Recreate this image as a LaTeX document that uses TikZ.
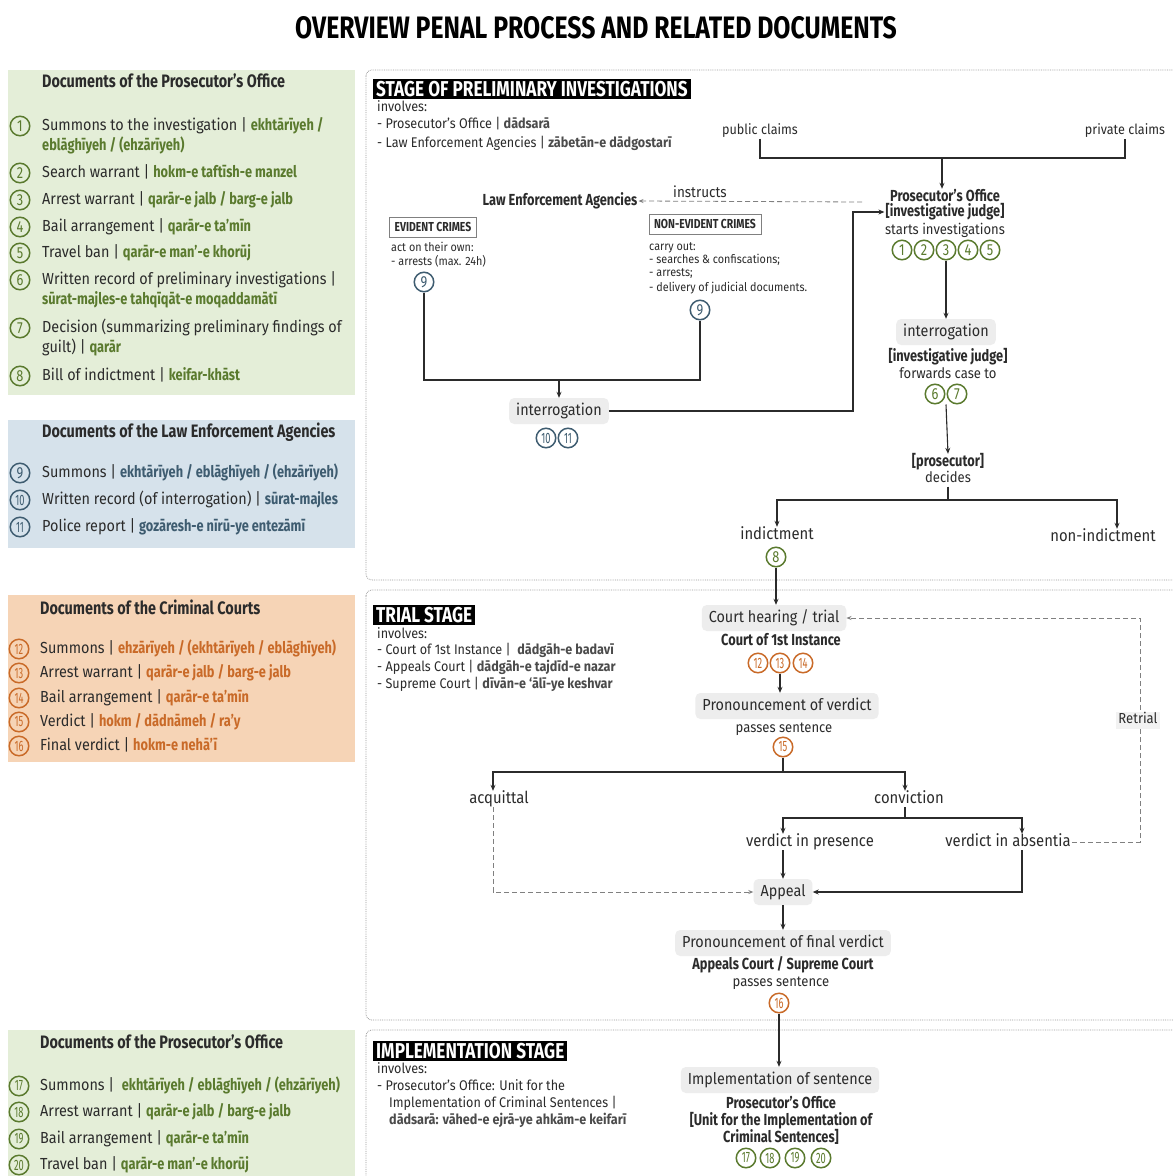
\documentclass[tikz,border=0pt]{standalone}
\usepackage{fontspec}
\setmainfont[FakeStretch=0.9]{Fira Sans}
\newfontfamily\cf[FakeStretch=0.8]{Fira Sans}
\newfontfamily\cnf[FakeStretch=0.62]{Fira Sans}
\usetikzlibrary{arrows.meta,calc}
\definecolor{tgreen}{HTML}{5A7A2E}
\definecolor{tblue}{HTML}{3E5C70}
\definecolor{torange}{HTML}{C96A28}
\definecolor{pgreen}{HTML}{E4EED8}
\definecolor{pblue}{HTML}{D6E2EB}
\definecolor{porange}{HTML}{F6D4B6}
\definecolor{gboxc}{HTML}{EDEDED}
\definecolor{ink}{HTML}{2B2B2B}
\newcommand\termG[1]{{\cf\bfseries\color{tgreen}#1}}
\newcommand\termB[1]{{\cf\bfseries\color{tblue}#1}}
\newcommand\termO[1]{{\cf\bfseries\color{torange}#1}}
\newcommand\termK[1]{{\bfseries\color{ink!85}#1}}
\tikzset{
  cn/.style={circle,draw,line width=1.5pt,minimum size=19.5pt,inner sep=0pt,font=\cf\fontsize{16}{16}\selectfont},
  tw/.style={font=\cnf\fontsize{15}{15}\selectfont},
  cg/.style={cn,draw=tgreen,text=tgreen},
  cb/.style={cn,draw=tblue,text=tblue},
  co/.style={cn,draw=torange,text=torange},
  leg/.style={anchor=west,inner sep=0pt,text=ink,text height=12pt,text depth=4pt,font=\fontsize{16}{18}\selectfont},
  legh/.style={anchor=west,inner sep=0pt,text=ink,font=\cf\bfseries\fontsize{18}{20}\selectfont},
  txt/.style={inner sep=1pt,text=ink,text height=10pt,text depth=3pt,font=\fontsize{14}{16}\selectfont},
  txtm/.style={inner sep=1pt,text=ink,text height=11pt,text depth=3pt,font=\fontsize{16.5}{18}\selectfont},
  txts/.style={inner sep=1pt,text=ink,text height=10pt,text depth=3pt,font=\fontsize{14.5}{16}\selectfont},
  small/.style={anchor=west,inner sep=0pt,text=ink,text height=9pt,text depth=3pt,font=\fontsize{12}{14}\selectfont},
  inv/.style={anchor=west,inner sep=0pt,text=ink,text height=10pt,text depth=3pt,font=\fontsize{14}{16}\selectfont},
  bld/.style={inner sep=1pt,text=ink,text height=11pt,text depth=3pt,font=\cf\bfseries\fontsize{16}{18}\selectfont},
  gb/.style={fill=gboxc,rounded corners=5pt,inner xsep=7pt,inner ysep=6pt,text=ink,text height=11pt,text depth=3pt,font=\fontsize{16}{18}\selectfont},
  stagelbl/.style={anchor=north west,fill=black,text=white,inner xsep=3pt,inner ysep=2pt,text height=15pt,text depth=1pt,font=\cf\bfseries\fontsize{21.5}{22}\selectfont},
  crimebox/.style={draw=gray,line width=0.8pt,inner sep=5pt,text=ink,text height=9pt,text depth=1pt,font=\cf\bfseries\fontsize{13}{14}\selectfont},
  frame/.style={draw=gray!80,line width=0.8pt,densely dotted,rounded corners=6pt},
  conn/.style={draw=ink,line width=1.1pt},
  arr/.style={conn,-{Stealth[length=6pt,width=5pt]}},
  dsh/.style={draw=gray,line width=0.8pt,dash pattern=on 5pt off 3pt},
  darr/.style={dsh,-{Stealth[length=5pt,width=4pt]}}
}
\begin{document}
\begin{tikzpicture}[x=1pt,y=-1pt]
\path[use as bounding box] (0,0) rectangle (1173,1176);
\clip (0,0) rectangle (1173,1176);
\fill[white] (0,0) rectangle (1173,1176);

% title
\node[text=black,font=\cf\bfseries\fontsize{31}{31}\selectfont] (title) at (596,28) {OVERVIEW PENAL PROCESS AND RELATED DOCUMENTS};

% ---------- legend panels ----------
\fill[pgreen] (8,70) rectangle (355,395);
\fill[pblue] (8,420) rectangle (355,548);
\fill[porange] (8,595) rectangle (355,762);
\fill[pgreen] (8,1030) rectangle (355,1190);

\node[legh] (hG1) at (42,81) {Documents of the Prosecutor’s Office};
\node[cg] (l1) at (20,126) {1};
\node[leg] (t1) at (42,126) {Summons to the investigation | \termG{ekhtārīyeh /}};
\node[leg] (t1b) at (42,146) {\termG{eblāghīyeh / (ehzārīyeh)}};
\node[cg] (l2) at (20,173) {2};
\node[leg] (t2) at (42,173) {Search warrant | \termG{hokm-e taftīsh-e manzel}};
\node[cg] (l3) at (20,200) {3};
\node[leg] (t3) at (42,200) {Arrest warrant | \termG{qarār-e jalb / barg-e jalb}};
\node[cg] (l4) at (20,227) {4};
\node[leg] (t4) at (42,227) {Bail arrangement | \termG{qarār-e ta’mīn}};
\node[cg] (l5) at (20,253) {5};
\node[leg] (t5) at (42,253) {Travel ban | \termG{qarār-e man’-e khorūj}};
\node[cg] (l6) at (20,280) {6};
\node[leg] (t6) at (42,280) {Written record of preliminary investigations |};
\node[leg] (t6b) at (42,300) {\termG{sūrat-majles-e tahqīqāt-e moqaddamātī}};
\node[cg] (l7) at (20,328) {7};
\node[leg] (t7) at (42,328) {Decision (summarizing preliminary findings of};
\node[leg] (t7b) at (42,348) {guilt) | \termG{qarār}};
\node[cg] (l8) at (20,376) {8};
\node[leg] (t8) at (42,376) {Bill of indictment | \termG{keifar-khāst}};

\node[legh] (hB) at (42,432) {Documents of the Law Enforcement Agencies};
\node[cb] (l9) at (20,473) {9};
\node[leg] (t9) at (42,473) {Summons | \termB{ekhtārīyeh / eblāghīyeh / (ehzārīyeh)}};
\node[cb,tw] (l10) at (20,500) {10};
\node[leg] (t10) at (42,500) {Written record (of interrogation) | \termB{sūrat-majles}};
\node[cb,tw] (l11) at (20,527) {11};
\node[leg] (t11) at (42,527) {Police report | \termB{gozāresh-e nīrū-ye entezāmī}};

\node[legh] (hO) at (40,607) {Documents of the Criminal Courts};
\node[co,tw] (l12) at (19,649) {12};
\node[leg] (t12) at (40,649) {Summons | \termO{ehzārīyeh / (ekhtārīyeh / eblāghīyeh)}};
\node[co,tw] (l13) at (19,673) {13};
\node[leg] (t13) at (40,673) {Arrest warrant | \termO{qarār-e jalb / barg-e jalb}};
\node[co,tw] (l14) at (19,698) {14};
\node[leg] (t14) at (40,698) {Bail arrangement | \termO{qarār-e ta’mīn}};
\node[co,tw] (l15) at (19,722) {15};
\node[leg] (t15) at (40,722) {Verdict | \termO{hokm / dādnāmeh / ra’y}};
\node[co,tw] (l16) at (19,746) {16};
\node[leg] (t16) at (40,746) {Final verdict | \termO{hokm-e nehā’ī}};

\node[legh] (hG2) at (40,1042) {Documents of the Prosecutor’s Office};
\node[cg,tw] (l17) at (19,1086) {17};
\node[leg] (t17) at (40,1086) {Summons | \ \termG{ekhtārīyeh / eblāghīyeh / (ehzārīyeh)}};
\node[cg,tw] (l18) at (19,1112) {18};
\node[leg] (t18) at (40,1112) {Arrest warrant | \termG{qarār-e jalb / barg-e jalb}};
\node[cg,tw] (l19) at (19,1139) {19};
\node[leg] (t19) at (40,1139) {Bail arrangement | \termG{qarār-e ta’mīn}};
\node[cg,tw] (l20) at (19,1165) {20};
\node[leg] (t20) at (40,1165) {Travel ban | \termG{qarār-e man’-e khorūj}};

% ---------- frames ----------
\draw[frame] (366,70) rectangle (1190,580);
\draw[frame] (366,590) rectangle (1190,1020);
\draw[frame] (366,1030) rectangle (1190,1200);

% ---------- stage 1 ----------
\node[stagelbl] (s1) at (373,79) {STAGE OF PRELIMINARY INVESTIGATIONS};
\node[inv] (inv1) at (377,108) {involves:};
\node[inv] (inv1a) at (377,125) {- Prosecutor’s Office | \termK{dādsarā}};
\node[inv] (inv1b) at (377,144) {- Law Enforcement Agencies | \termK{zābetān-e dādgostarī}};

\node[txt] (pubc) at (760,131) {public claims};
\node[txt] (privc) at (1125,131) {private claims};
\coordinate (jcl) at (942,158);
\draw[conn] (pubc.south) |- (jcl) -| (privc.south);

\node[bld] (po1) at (945,197) {Prosecutor’s Office};
\node[bld] (po2) at (945,212) {[investigative judge]};
\node[txts] (po3) at (945,231) {starts investigations};
\draw[arr] (jcl) -- (jcl |- po1.north);
\node[cg] (c1) at (902,250) {1};
\node[cg] (c2) at (924,250) {2};
\node[cg] (c3) at (946,250) {3};
\node[cg] (c4) at (968,250) {4};
\node[cg] (c5) at (990,250) {5};

\node[bld] (lea) at (560,201) {Law Enforcement Agencies};
\node[txt,font=\fontsize{15}{17}\selectfont] (instr) at (700,194) {instructs};
\coordinate (dstart) at (862,202);
\draw[darr] (dstart) -- (lea.east);

\node[crimebox] (ev) at (433,227) {EVIDENT CRIMES};
\node[small] (ev1) at (391,248) {act on their own:};
\node[small] (ev2) at (391,262) {- arrests (max. 24h)};
\node[cb] (n9a) at (424,282) {9};

\node[crimebox] (nev) at (705,224) {NON-EVIDENT CRIMES};
\node[small] (nev1) at (649,247) {carry out:};
\node[small] (nev2) at (649,260) {- searches \& confiscations;};
\node[small] (nev3) at (649,273) {- arrests;};
\node[small] (nev4) at (649,288) {- delivery of judicial documents.};
\node[cb] (n9b) at (700,310) {9};

\node[gb] (il) at (559,411) {interrogation};
\node[cb,tw] (n10) at (546,438) {10};
\node[cb,tw] (n11) at (568,438) {11};
\coordinate (jint) at (559,380);
\draw[conn] (n9a.south) |- (jint) -| (n9b.south);
\draw[arr] (jint) -- (il.north);
\coordinate (jup) at (853,212);
\draw[arr] (il.east) -| (jup) -- (po2.west);

\node[gb] (irj) at (946,332) {interrogation};
\draw[arr] (c3.south) -- (irj.north);
\node[bld] (irj2) at (948,357) {[investigative judge]};
\node[txts] (fwd) at (948,375) {forwards case to};
\node[cg] (c6) at (935,394) {6};
\node[cg] (c7) at (957,394) {7};
\node[bld] (pros) at (948,462) {[prosecutor]};
\node[txts] (dec) at (948,479) {decides};
\draw[arr] ($(c6.south)!.5!(c7.south)$) -- (pros.north);
\coordinate (jdec) at (948,500);
\node[txtm] (ind) at (777,535) {indictment};
\node[txtm] (nind) at (1103,537) {non-indictment};
\coordinate (xnind) at (1117,0);
\draw[conn] (dec.south) -- (jdec);
\draw[arr] (jdec) -| (ind.north);
\draw[arr] (jdec) -| (xnind |- nind.north);
\node[cg] (n8) at (776,557) {8};

% ---------- stage 2 ----------
\node[stagelbl] (s2) at (373,605) {TRIAL STAGE};
\node[inv] (inv2) at (377,635) {involves:};
\node[inv] (inv2a) at (377,651) {- Court of 1st Instance | \ \termK{dādgāh-e badavī}};
\node[inv] (inv2b) at (377,668) {- Appeals Court | \termK{dādgāh-e tajdīd-e nazar}};
\node[inv] (inv2c) at (377,685) {- Supreme Court | \termK{dīvān-e ‘ālī-ye keshvar}};

\node[gb] (ch) at (774,618) {Court hearing / trial};
\draw[arr] (n8.south) -- (n8.south |- ch.north);
\node[bld] (c1i) at (781,641) {Court of 1st Instance};
\node[co,tw] (n12) at (758,663) {12};
\node[co,tw] (n13) at (780,663) {13};
\node[co,tw] (n14) at (803,663) {14};
\node[gb] (pv) at (787,706) {Pronouncement of verdict};
\draw[arr] (n13.south) -- (n13.south |- pv.north);
\node[txts] (ps1) at (784,729) {passes sentence};
\node[co,tw] (n15) at (783,747) {15};
\coordinate (jv) at (783,772);
\draw[conn] (n15.south) -- (jv);
\node[txtm] (acq) at (499,799) {acquittal};
\node[txtm] (conv) at (909,799) {conviction};
\coordinate (xacq) at (493,0);
\coordinate (xconv) at (905,0);
\draw[arr] (jv) -| (xacq |- acq.north);
\draw[arr] (jv) -| (xconv |- conv.north);

\node[txtm] (vip) at (810,842) {verdict in presence};
\node[txtm] (via) at (1008,842) {verdict in absentia};
\node[gb] (app) at (783,892) {Appeal};
\coordinate (xabs) at (1022,0);
\coordinate (jc) at (907,818);
\draw[conn] (xconv |- conv.south) -- (xconv |- jc);
\draw[conn] (app.north |- jc) -- (xabs |- jc);
\draw[arr] (xconv |- jc) -| (app.north |- vip.north);
\draw[arr] (xconv |- jc) -| (xabs |- via.north);
\draw[arr] (app.north |- vip.south) -- (app.north);
\draw[arr] (xabs |- via.south) |- (app.east);
\draw[darr] (xacq |- acq.south) |- (app.west);
\coordinate (xret) at (1140,0);
\draw[darr] (via.east) -| (xret |- ch.east) -- (ch.east);
\node[txts,fill=gboxc!70,inner sep=2pt] (ret) at (1138,720) {Retrial};

\node[gb] (pfv) at (783,943) {Pronouncement of final verdict};
\draw[arr] (app.south) -- (pfv.north);
\node[bld] (acs) at (783,965) {Appeals Court / Supreme Court};
\node[txts] (ps2) at (781,983) {passes sentence};
\node[co,tw] (n16) at (779,1003) {16};

% ---------- stage 3 ----------
\node[stagelbl] (s3) at (373,1041) {IMPLEMENTATION STAGE};
\node[inv] (inv3) at (377,1070) {involves:};
\node[inv] (inv3a) at (377,1087) {- Prosecutor’s Office: Unit for the};
\node[inv] (inv3b) at (389,1104) {Implementation of Criminal Sentences |};
\node[inv] (inv3c) at (389,1121) {\termK{dādsarā: vāhed-e ejrā-ye ahkām-e keifarī}};

\node[gb] (impl) at (780,1080) {Implementation of sentence};
\draw[arr] (n16.south) -- (n16.south |- impl.north);
\node[bld] (ip1) at (781,1104) {Prosecutor’s Office};
\node[bld] (ip2) at (781,1121) {[Unit for the Implementation of};
\node[bld] (ip3) at (781,1138) {Criminal Sentences]};
\node[cg,tw] (n17) at (746,1158) {17};
\node[cg,tw] (n18) at (770,1158) {18};
\node[cg,tw] (n19) at (795,1158) {19};
\node[cg,tw] (n20) at (821,1158) {20};
\end{tikzpicture}
\end{document}
